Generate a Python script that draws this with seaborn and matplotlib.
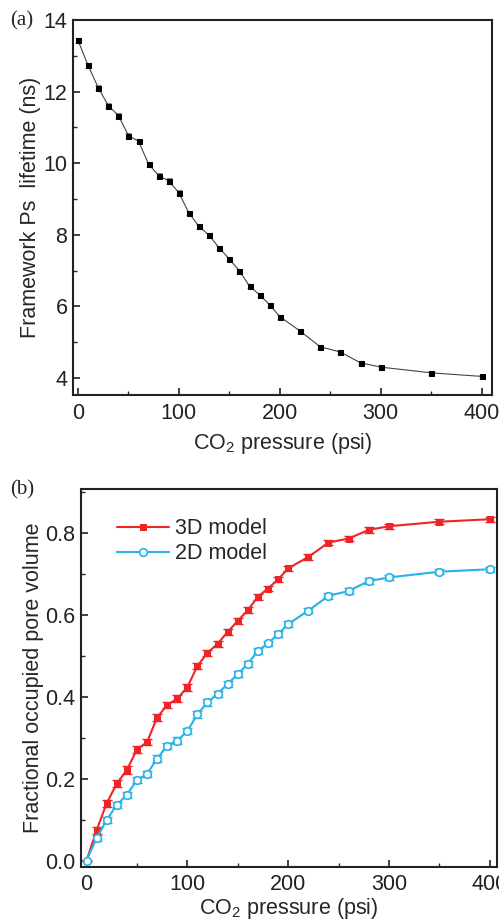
import numpy as np
import pandas as pd
import matplotlib
matplotlib.use("Agg")
import matplotlib.pyplot as plt
from matplotlib.ticker import MultipleLocator
import seaborn as sns

# Panel (a): framework Ps lifetime vs CO2 pressure
pressure_a = [0, 10, 20, 30, 40, 50, 60, 70, 80, 90, 100, 110, 120, 130, 140,
              150, 160, 170, 180, 190, 200, 220, 240, 260, 280, 300, 350, 400]
lifetime = [13.43, 12.73, 12.11, 11.61, 11.33, 10.77, 10.61, 9.97, 9.65, 9.50,
            9.17, 8.60, 8.23, 7.98, 7.63, 7.32, 6.99, 6.56, 6.32, 6.04,
            5.71, 5.31, 4.87, 4.72, 4.42, 4.30, 4.14, 4.04]
lifetime_err = [0.06, 0.07, 0.07, 0.06, 0.07, 0.06, 0.06, 0.07, 0.07, 0.08,
                0.07, 0.06, 0.07, 0.06, 0.06, 0.06, 0.06, 0.06, 0.06, 0.06,
                0.06, 0.06, 0.06, 0.06, 0.06, 0.06, 0.05, 0.05]

# Panel (b): fractional occupied pore volume
pressure_b = [0, 10, 20, 30, 40, 50, 60, 70, 80, 90, 100, 110, 120, 130, 140,
              150, 160, 170, 180, 190, 200, 220, 240, 260, 280, 300, 350, 400]
vol_3d = [0.0, 0.074, 0.140, 0.188, 0.221, 0.271, 0.289, 0.349, 0.380, 0.395,
          0.423, 0.475, 0.507, 0.529, 0.558, 0.585, 0.611, 0.644, 0.664, 0.686,
          0.713, 0.741, 0.776, 0.786, 0.807, 0.816, 0.827, 0.833]
vol_2d = [0.0, 0.055, 0.099, 0.136, 0.160, 0.197, 0.211, 0.249, 0.280, 0.293,
          0.316, 0.357, 0.386, 0.407, 0.431, 0.455, 0.480, 0.512, 0.530, 0.553,
          0.577, 0.610, 0.646, 0.658, 0.682, 0.691, 0.705, 0.711]
err_3d = [0.0, 0.009, 0.009, 0.009, 0.009, 0.009, 0.008, 0.009, 0.008, 0.008,
          0.008, 0.008, 0.008, 0.008, 0.008, 0.008, 0.007, 0.007, 0.007, 0.007,
          0.007, 0.007, 0.007, 0.007, 0.007, 0.006, 0.006, 0.006]
err_2d = [0.0, 0.008, 0.008, 0.008, 0.008, 0.008, 0.008, 0.008, 0.008, 0.008,
          0.008, 0.008, 0.008, 0.008, 0.007, 0.007, 0.007, 0.007, 0.007, 0.007,
          0.007, 0.007, 0.007, 0.007, 0.007, 0.006, 0.006, 0.006]

df_a = pd.DataFrame({"pressure": pressure_a, "lifetime": lifetime})
df_b = pd.DataFrame({
    "pressure": pressure_b * 2,
    "volume": vol_3d + vol_2d,
    "model": ["3D model"] * len(pressure_b) + ["2D model"] * len(pressure_b),
})

sns.set_style("ticks")
plt.rcParams["font.family"] = ["Liberation Sans", "DejaVu Sans"]
plt.rcParams["mathtext.fontset"] = "custom"
plt.rcParams["mathtext.rm"] = "Liberation Sans"
plt.rcParams["mathtext.it"] = "Liberation Sans:italic"
plt.rcParams["xtick.direction"] = "in"
plt.rcParams["ytick.direction"] = "in"

RED = "#ee2427"
BLUE = "#27b2e8"
FS = 15.5

fig = plt.figure(figsize=(4.99, 9.24), dpi=100)
ax1 = fig.add_axes([0.1463, 0.5725, 0.839, 0.4058])
ax2 = fig.add_axes([0.1623, 0.062, 0.8343, 0.4084])

# (a)
ax1.errorbar(pressure_a, lifetime, yerr=lifetime_err, fmt="none",
             ecolor="#888888", elinewidth=0.8, capsize=2.5, capthick=0.8, zorder=2)
sns.lineplot(data=df_a, x="pressure", y="lifetime", ax=ax1, color="#444444",
             linewidth=0.8, marker="s", markersize=3.6, markerfacecolor="black",
             markeredgecolor="black", zorder=3)
ax1.set_xlim(-5, 410)
ax1.set_ylim(3.52, 14)
ax1.xaxis.set_major_locator(MultipleLocator(100))
ax1.xaxis.set_minor_locator(MultipleLocator(50))
ax1.yaxis.set_major_locator(MultipleLocator(2))
ax1.yaxis.set_minor_locator(MultipleLocator(1))
ax1.set_xlabel("CO$_2$ pressure (psi)", fontsize=FS, labelpad=5)
ax1.set_ylabel("Framework Ps  lifetime (ns)", fontsize=FS, labelpad=2)

# (b)
for model, vals, errs, col in [("3D model", vol_3d, err_3d, RED),
                               ("2D model", vol_2d, err_2d, BLUE)]:
    ax2.errorbar(pressure_b, vals, yerr=errs, fmt="none", ecolor=col,
                 elinewidth=1.0, capsize=3.6, capthick=1.0, zorder=2)
sns.lineplot(data=df_b[df_b.model == "3D model"], x="pressure", y="volume", ax=ax2,
             color=RED, linewidth=1.5, marker="s", markersize=4.5,
             markerfacecolor=RED, markeredgecolor=RED, label="3D model", zorder=3)
sns.lineplot(data=df_b[df_b.model == "2D model"], x="pressure", y="volume", ax=ax2,
             color=BLUE, linewidth=1.5, marker="o", markersize=5.5,
             markerfacecolor="white", markeredgecolor=BLUE, markeredgewidth=1.2,
             label="2D model", zorder=3)
ax2.set_xlim(-5.5, 407.5)
ax2.set_ylim(-0.015, 0.906)
ax2.xaxis.set_major_locator(MultipleLocator(100))
ax2.xaxis.set_minor_locator(MultipleLocator(50))
ax2.yaxis.set_major_locator(MultipleLocator(0.2))
ax2.yaxis.set_minor_locator(MultipleLocator(0.1))
ax2.yaxis.set_major_formatter(plt.FormatStrFormatter("%.1f"))
ax2.set_xlabel("CO$_2$ pressure (psi)", fontsize=FS, labelpad=1)
ax2.set_ylabel("Fractional occupied pore volume", fontsize=FS, labelpad=1)
ax2.legend(loc="upper left", bbox_to_anchor=(0.04, 0.975), frameon=False,
           fontsize=FS, handlelength=2.4, handletextpad=0.3, labelspacing=0.2)

for ax in (ax1, ax2):
    for s in ax.spines.values():
        s.set_linewidth(1.5)
        s.set_color("#222222")
    ax.tick_params(which="major", length=5, width=1.2, labelsize=FS, colors="#222222")
    ax.tick_params(which="minor", length=3, width=1.0)
    ax.tick_params(axis="x", pad=6)
ax1.tick_params(axis="y", pad=4)
ax2.tick_params(axis="y", pad=4)
ax2.tick_params(axis="x", pad=5)

fig.text(0.02, 0.977, "(a)", fontsize=15, family=["Liberation Serif"], va="center")
fig.text(0.02, 0.4695, "(b)", fontsize=15, family=["Liberation Serif"], va="center")

fig.savefig("out.png", dpi=100)
